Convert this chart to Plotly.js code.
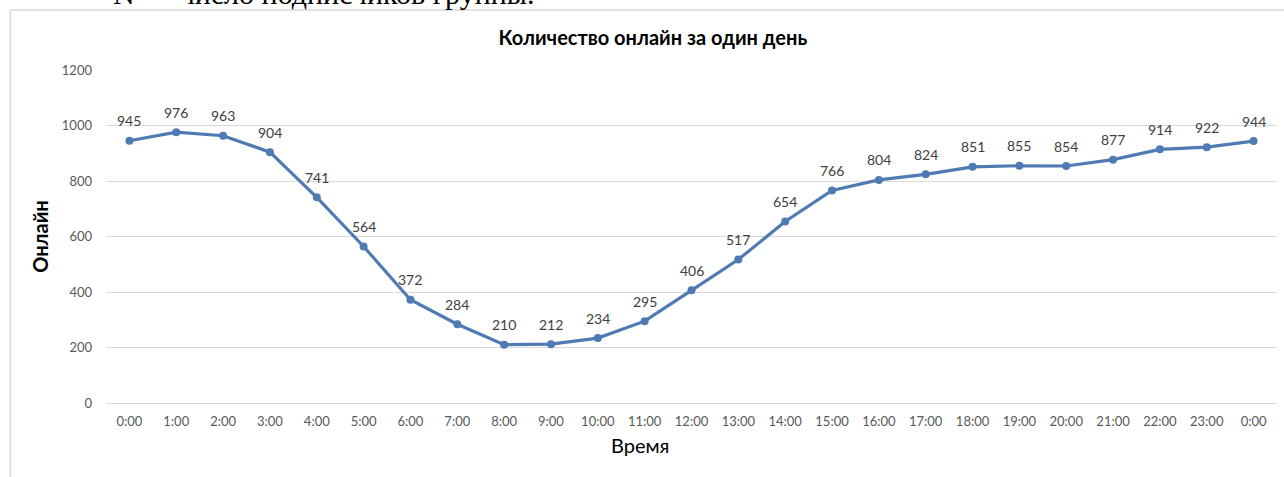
<!DOCTYPE html>
<html>
<head>
<meta charset="utf-8">
<script src="https://cdn.plot.ly/plotly-3.0.1.min.js"></script>
<style>html,body{margin:0;padding:0;background:#fff;}#chart{width:1284px;height:477px;}</style>
</head>
<body>
<div id="chart"></div>
<script>
const tickLabels = ["0:00","1:00","2:00","3:00","4:00","5:00","6:00","7:00","8:00","9:00","10:00","11:00","12:00","13:00","14:00","15:00","16:00","17:00","18:00","19:00","20:00","21:00","22:00","23:00","0:00"];
const hourIndex = [0,1,2,3,4,5,6,7,8,9,10,11,12,13,14,15,16,17,18,19,20,21,22,23,24];
const online = [945,976,963,904,741,564,372,284,210,212,234,295,406,517,654,766,804,824,851,855,854,877,914,922,944];
const yTicks = [0,200,400,600,800,1000,1200];

const font = "Lato, 'Open Sans', 'Liberation Sans', sans-serif";

const trace = {
  x: hourIndex,
  y: online,
  type: 'scatter',
  mode: 'lines+markers',
  line: {color: '#4f7ab3', width: 3.2},
  marker: {color: '#4f7ab3', size: 8},
  cliponaxis: false,
  hoverinfo: 'x+y'
};

const labelAnnotations = hourIndex.map((h, i) => ({
  x: h, y: online[i], xref: 'x', yref: 'y',
  text: String(online[i]), showarrow: false,
  xanchor: 'center', yanchor: 'middle', yshift: 20,
  font: {family: font, size: 14, color: '#404040'}
}));

const layout = {
  width: 1284, height: 477,
  margin: {l: 106, r: 7, t: 70, b: 74},
  paper_bgcolor: '#fff', plot_bgcolor: '#fff',
  showlegend: false,
  title: {text: '<b>Количество онлайн за один день</b>', font: {family: font, size: 20, color: '#000'}, xref: 'paper', x: 0.467, xanchor: 'center', yref: 'container', y: 0.92, yanchor: 'middle'},
  xaxis: {
    range: [-0.5, 24.5],
    tickvals: hourIndex, ticktext: tickLabels,
    showgrid: false, zeroline: false, showline: false, ticks: '',
    tickfont: {family: font, size: 13, color: '#595959'},
    ticklabelstandoff: 9
  },
  yaxis: {
    range: [0, 1200], tickvals: yTicks,
    showgrid: true, gridcolor: '#d9d9d9', gridwidth: 1,
    zeroline: true, zerolinecolor: '#d9d9d9', zerolinewidth: 1,
    showline: false, ticks: '',
    tickfont: {family: font, size: 13, color: '#595959'},
    ticklabelstandoff: 13,
    title: {text: '<b>Онлайн</b>', font: {family: font, size: 20, color: '#000'}, standoff: 7}
  },
  shapes: [
    {type: 'line', xref: 'paper', yref: 'paper', x0: -0.0816, x1: 1.01, y0: 1.1802, y1: 1.1802, line: {color: '#d9d9d9', width: 1.5}},
    {type: 'line', xref: 'paper', yref: 'paper', x0: -0.0816, x1: -0.0816, y0: 1.1802, y1: -0.25, line: {color: '#d9d9d9', width: 1.5}}
  ],
  annotations: labelAnnotations.concat([
    {text: 'Время', xref: 'paper', yref: 'paper', x: 0.456, y: -0.126, xanchor: 'center', yanchor: 'middle', showarrow: false, font: {family: font, size: 20, color: '#000'}},
    {text: 'N — число подписчиков группы.', xref: 'paper', yref: 'paper', x: 0.004, y: 1.231, xanchor: 'left', yanchor: 'middle', showarrow: false, font: {family: "'Liberation Serif', 'DejaVu Serif', serif", size: 30, color: '#000'}}
  ])
};

Plotly.newPlot('chart', [trace], layout, {displayModeBar: false, staticPlot: true});
</script>
</body>
</html>
